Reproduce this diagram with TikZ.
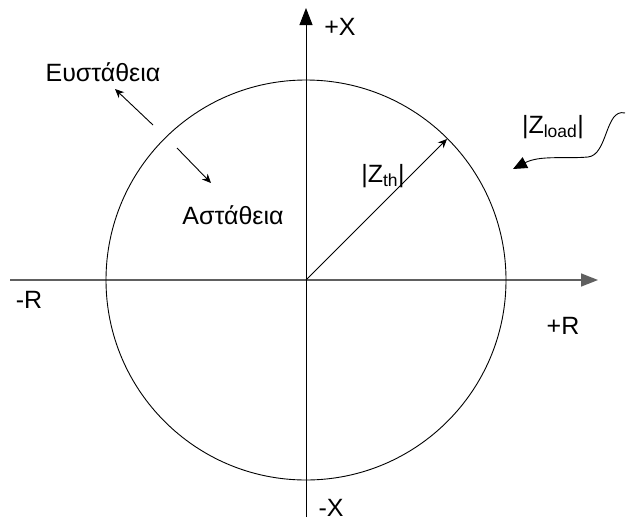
\documentclass[tikz,border=0pt]{standalone}
\usepackage{fontspec}
\setmainfont{Liberation Sans}
\usetikzlibrary{arrows.meta}

\begin{document}
\begin{tikzpicture}[x=1pt,y=-1pt,line width=0.9pt,
        lbl/.style={font=\fontsize{25}{28}\selectfont, inner sep=0pt},
        axisline/.style={-{Triangle[length=17pt,width=13pt]}},
        pointer/.style={-{Stealth[length=9pt,width=8pt]}}]
        \useasboundingbox (0,0) rectangle (628,522);

        % Axes
        \coordinate (O) at (306,280);
        \coordinate (Rneg) at (10,280);
        \coordinate (Rpos) at (598,280);
        \coordinate (Xneg) at (306,517);
        \coordinate (Xpos) at (306,8);
        \draw[axisline, gray!75!black, line width=1.6pt] (Rneg) -- (Rpos);
        \draw[axisline] (Xneg) -- (Xpos);

        \node[lbl] (xp) at (340,27) {+X};
        \node[lbl] (xn) at (331,508) {-X};
        \node[lbl] (rn) at (29,300) {-R};
        \node[lbl] (rp) at (563,326) {+R};

        % Circle |Z_th|
        \draw (O) circle (200pt);
        \coordinate (P) at (447,139);
        \draw[pointer] (O) -- (P);
        \node[lbl] (zth) at (383,176) {|Z\textsubscript{th}|};

        % Stable / unstable
        \node[lbl] (stab) at (103,72) {Ευστάθεια};
        \node[lbl] (unstab) at (233,215) {Αστάθεια};
        \coordinate (s1) at (153,125);
        \coordinate (s2) at (115,89);
        \coordinate (u1) at (177,148);
        \coordinate (u2) at (211,183);
        \draw[pointer] (s1) -- (s2);
        \draw[pointer] (u1) -- (u2);

        % Load
        \node[lbl] (zload) at (553,127) {|Z\textsubscript{load}|};
        \coordinate (w0) at (625,113);
        \coordinate (w1) at (513,169);
        \draw[-{Triangle[length=14pt,width=12pt]}] (w0) .. controls (605,108) and (608,155) .. (588,157) .. controls (565,159) and (540,155) .. (w1);

    \end{tikzpicture}
\end{document}
